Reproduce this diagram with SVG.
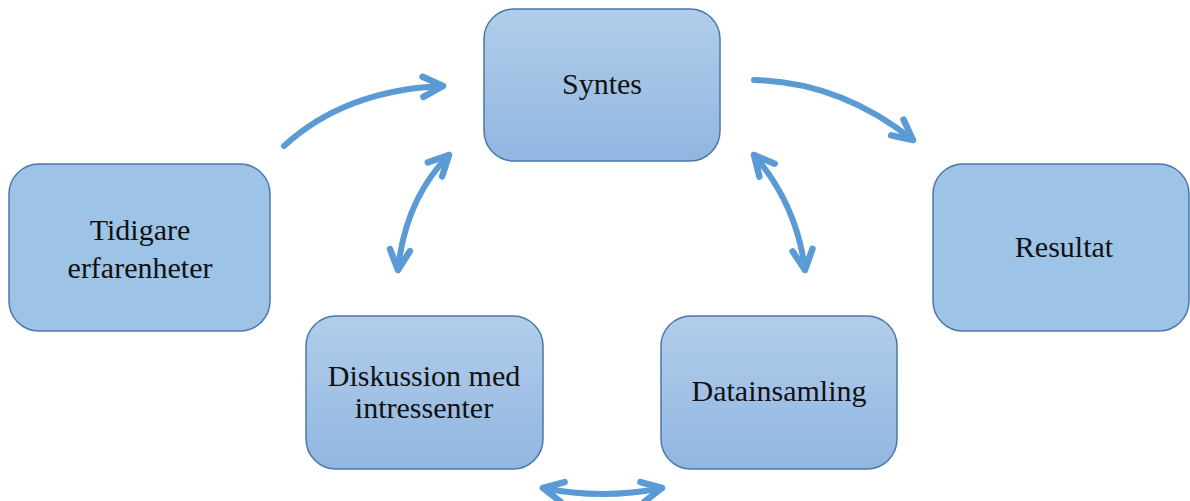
<svg xmlns="http://www.w3.org/2000/svg" width="1190" height="501" viewBox="0 0 1190 501">
<defs>
<linearGradient id="g" x1="0" y1="0" x2="0" y2="1">
<stop offset="0" stop-color="#b2cdea"/>
<stop offset="1" stop-color="#91b6e1"/>
</linearGradient>
<marker id="ah" markerUnits="userSpaceOnUse" markerWidth="40" markerHeight="40" viewBox="-30 -20 40 40" refX="0" refY="0" orient="auto-start-reverse">
<path d="M-20,-10 L0,0 L-20,10" fill="none" stroke="#5b9bd5" stroke-width="6.5" stroke-linecap="round" stroke-linejoin="round"/>
</marker>
<style>
.box{stroke:#4a78a8;stroke-width:1.5}
.solid{fill:#9dc3e6}
.grad{fill:url(#g)}
.t{font-family:"Liberation Serif",serif;font-size:30px;fill:#111;text-anchor:middle}
.c{fill:none;stroke:#5b9bd5;stroke-width:6;stroke-linecap:round}
</style>
</defs>
<g id="connectors">
<path class="c" d="M284,146 Q345,90 443,86" marker-end="url(#ah)"/>
<path class="c" d="M754,80 Q840,82 913,140" marker-end="url(#ah)"/>
<path class="c" d="M449,155 Q405,200 398,270" marker-start="url(#ah)" marker-end="url(#ah)"/>
<path class="c" d="M754,155 Q797,205 805,270" marker-start="url(#ah)" marker-end="url(#ah)"/>
<path class="c" d="M543,488 Q602,500 662,488" marker-start="url(#ah)" marker-end="url(#ah)"/>
</g>
<g id="syntes">
<rect class="box grad" x="484" y="9" width="236" height="152" rx="30"/>
<text class="t" x="602" y="94">Syntes</text>
</g>
<g id="tidigare">
<rect class="box solid" x="9" y="164" width="261" height="167" rx="30"/>
<text class="t" x="140" y="240">Tidigare</text>
<text class="t" x="140" y="278">erfarenheter</text>
</g>
<g id="resultat">
<rect class="box solid" x="933" y="164" width="256" height="167" rx="30"/>
<text class="t" x="1064" y="257">Resultat</text>
</g>
<g id="diskussion">
<rect class="box grad" x="306" y="316" width="237" height="153" rx="30"/>
<text class="t" x="424" y="386">Diskussion med</text>
<text class="t" x="424" y="418">intressenter</text>
</g>
<g id="datainsamling">
<rect class="box grad" x="661" y="316" width="236" height="153" rx="30"/>
<text class="t" x="779" y="401">Datainsamling</text>
</g>
</svg>
